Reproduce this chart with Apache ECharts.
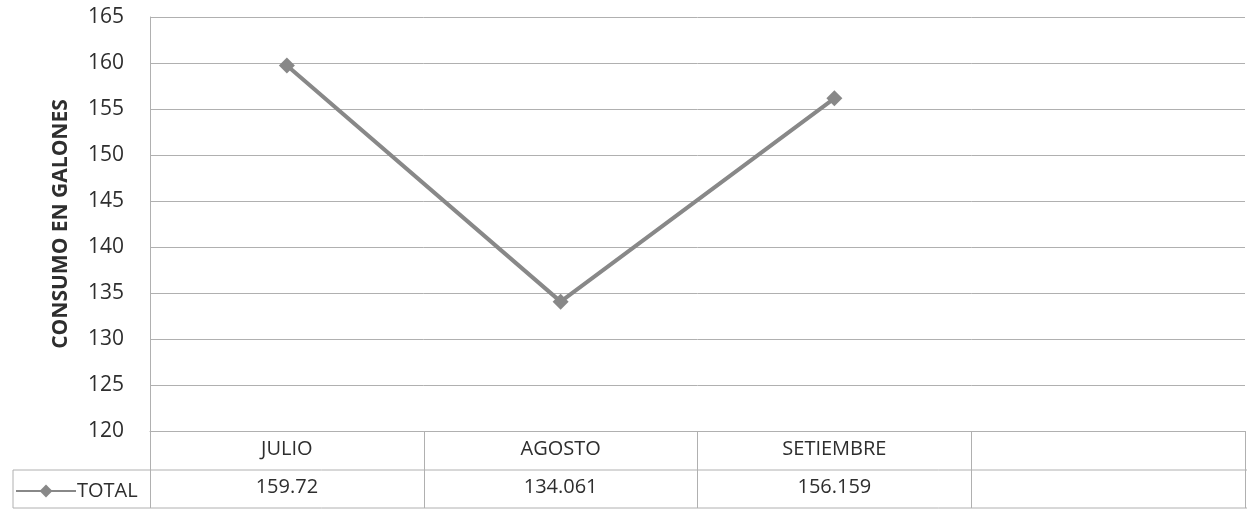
<!DOCTYPE html>
<html>
<head>
<meta charset="utf-8">
<script src="https://cdn.jsdelivr.net/npm/echarts@6/dist/echarts.min.js"></script>
<style>
html,body{margin:0;padding:0;background:#fff;}
#c{width:1247px;height:510px;}
</style>
</head>
<body>
<div id="c"></div>
<script>
const categories = ['JULIO', 'AGOSTO', 'SETIEMBRE', ''];
const seriesName = 'TOTAL';
const totalValues = [159.72, 134.061, 156.159, null];
const tableLabels = ['159.72', '134.061', '156.159', ''];
const yTicks = { min: 120, max: 165, interval: 5 };

const FONT = '"Open Sans", "Liberation Sans", sans-serif';
const TXT = '#2e2e2e';
const LINE = '#b0b0b0';
const G = { left: 150, right: 2, top: 17, bottom: 79 };
const W = 1247, H = 510;
const yAxisLine = H - G.bottom;       // 431
const row2 = yAxisLine + 39;          // 470
const row3 = H - 2;                   // 508

const chart = echarts.init(document.getElementById('c'), null, { renderer: 'canvas' });
chart.setOption({
  animation: false,
  backgroundColor: '#fff',
  grid: G,
  legend: {
    data: [seriesName],
    left: 10, top: row2 + 6,
    itemWidth: 60, itemHeight: 16, itemGap: 2,
    textStyle: { fontFamily: FONT, fontSize: 20, color: TXT, padding: [0, 0, 0, -4] }
  },
  xAxis: [
    {
      type: 'category', data: categories, boundaryGap: true,
      axisLine: { show: true, lineStyle: { color: LINE, width: 1 } },
      axisTick: { show: true, interval: 0, length: row3 - yAxisLine, lineStyle: { color: LINE } },
      axisLabel: { interval: 0, margin: 8, fontFamily: FONT, fontSize: 20, color: TXT },
      splitLine: { show: false }
    },
    {
      type: 'category', data: tableLabels, boundaryGap: true, position: 'bottom', offset: 39,
      axisLine: { show: false }, axisTick: { show: false },
      axisLabel: { interval: 0, margin: 7, fontFamily: FONT, fontSize: 20, color: TXT },
      splitLine: { show: false }
    }
  ],
  yAxis: {
    type: 'value', min: yTicks.min, max: yTicks.max, interval: yTicks.interval,
    name: 'CONSUMO EN GALONES', nameLocation: 'middle', nameGap: 78,
    nameTextStyle: { fontFamily: FONT, fontSize: 21, fontWeight: 'bold', color: TXT },
    axisLine: { show: true, lineStyle: { color: LINE } },
    axisTick: { show: false },
    axisLabel: { margin: 26, fontFamily: FONT, fontSize: 21, color: TXT },
    splitLine: { show: true, lineStyle: { color: LINE, width: 1 } }
  },
  series: [{
    name: seriesName, type: 'line', data: totalValues,
    symbol: 'diamond', symbolSize: 16,
    lineStyle: { color: '#888888', width: 4 },
    itemStyle: { color: '#888888' }
  }],
  graphic: [
    { type: 'line', shape: { x1: 13, y1: row2, x2: W, y2: row2 }, style: { stroke: LINE, lineWidth: 1 } },
    { type: 'line', shape: { x1: 13, y1: row3, x2: W, y2: row3 }, style: { stroke: LINE, lineWidth: 1 } },
    { type: 'line', shape: { x1: 13, y1: row2, x2: 13, y2: row3 }, style: { stroke: LINE, lineWidth: 1 } }
  ]
});
</script>
</body>
</html>
